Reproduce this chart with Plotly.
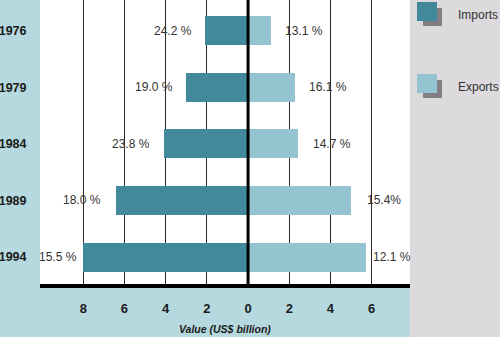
import plotly.graph_objects as go

# Trade values by year (US$ billion) and share labels
years = ["1976", "1979", "1984", "1989", "1994"]
imports = [2.1, 3.0, 4.1, 6.4, 8.0]
exports = [1.1, 2.3, 2.4, 5.0, 5.7]
import_labels = ["24.2 %", "19.0 %", "23.8 %", "18.0 %", "15.5 %"]
export_labels = ["13.1 %", "16.1 %", "14.7 %", "15.4%", "12.1 %"]
tick_values = [-8, -6, -4, -2, 0, 2, 4, 6]
tick_labels = ["8", "6", "4", "2", "0", "2", "4", "6"]

IMP_COLOR = "#41899b"
EXP_COLOR = "#94c4d0"
BAND_COLOR = "#b6d9df"
SIDE_COLOR = "#dddadd"
SHADOW = "#837d84"
FONT = "Liberation Sans, Arial, sans-serif"

W, H = 500, 337
L, R, T, B = 40, 90, 0, 51
PW, PH = W - L - R, H - T - B

ypos = list(range(len(years)))

fig = go.Figure()
fig.add_trace(go.Bar(
    y=ypos, x=[-v for v in imports], orientation="h", width=0.51,
    marker=dict(color=IMP_COLOR, line=dict(width=0)), name="Imports",
    showlegend=False, hoverinfo="skip",
))
fig.add_trace(go.Bar(
    y=ypos, x=exports, orientation="h", width=0.51,
    marker=dict(color=EXP_COLOR, line=dict(width=0)), name="Exports",
    showlegend=False, hoverinfo="skip",
))

label_font = dict(family=FONT, size=12, color="#333333")
gaps = [11, 11, 12, 13, 4]
annotations = []
for i in ypos:
    annotations.append(dict(
        x=-imports[i], y=i, xref="x", yref="y", text=import_labels[i],
        showarrow=False, xanchor="right", yanchor="middle",
        xshift=-gaps[i], font=label_font,
    ))
    annotations.append(dict(
        x=exports[i], y=i, xref="x", yref="y", text=export_labels[i],
        showarrow=False, xanchor="left", yanchor="middle",
        xshift=gaps[i] + 1, font=label_font,
    ))

# axis title
annotations.append(dict(
    x=0.5, y=(PH - 329) / PH, xref="paper", yref="paper",
    text="Value (US$ billion)", showarrow=False,
    xanchor="center", yanchor="middle",
    font=dict(family=FONT, size=10.5, color="#1a1a1a", weight="bold", style="italic"),
))


def px_x(px):
    return (px - L) / PW


def px_y(py):
    return (PH - (py - T)) / PH


shapes = [
    # grey side panel
    dict(type="rect", xref="paper", yref="paper", x0=px_x(410), x1=px_x(W),
         y0=px_y(H), y1=px_y(0), fillcolor=SIDE_COLOR, line=dict(width=0),
         layer="below"),
    # zero line
    dict(type="line", xref="x", yref="paper", x0=0, x1=0, y0=0, y1=1,
         line=dict(color="#000000", width=3)),
    # baseline
    dict(type="line", xref="paper", yref="paper", x0=0, x1=1, y0=0, y1=0,
         line=dict(color="#000000", width=4)),
]

# legend swatches with drop shadows
legend_items = [("Imports", IMP_COLOR, 2, 15), ("Exports", EXP_COLOR, 74, 87)]
for name, color, top, text_y in legend_items:
    shapes.append(dict(type="rect", xref="paper", yref="paper",
                       x0=px_x(423), x1=px_x(442), y0=px_y(top + 24), y1=px_y(top + 6),
                       fillcolor=SHADOW, line=dict(width=0)))
    shapes.append(dict(type="rect", xref="paper", yref="paper",
                       x0=px_x(417), x1=px_x(437), y0=px_y(top + 19), y1=px_y(top),
                       fillcolor=color, line=dict(width=0)))
    annotations.append(dict(
        x=px_x(456), y=px_y(text_y), xref="paper", yref="paper", text=name,
        showarrow=False, xanchor="left", yanchor="middle",
        font=dict(family=FONT, size=12, color="#333333"),
    ))

fig.update_layout(
    width=W, height=H,
    margin=dict(l=L, r=R, t=T, b=B, pad=0),
    paper_bgcolor=BAND_COLOR, plot_bgcolor="#ffffff",
    barmode="overlay", bargap=0,
    shapes=shapes, annotations=annotations,
    xaxis=dict(
        range=[-10.1, 7.86], tickvals=tick_values, ticktext=tick_labels,
        showgrid=True, gridcolor="#2a2a2a", gridwidth=1,
        zeroline=False, showline=False,
        ticks="outside", ticklen=10, tickcolor="rgba(0,0,0,0)",
        tickfont=dict(family=FONT, size=13, color="#1a1a1a", weight="bold"),
        fixedrange=True,
    ),
    yaxis=dict(
        range=[4.51, -0.54], tickvals=ypos, ticktext=years,
        showgrid=False, zeroline=False, showline=False,
        ticks="outside", ticklen=10, tickcolor="rgba(0,0,0,0)",
        tickfont=dict(family=FONT, size=12.5, color="#1a1a1a", weight="bold"),
        fixedrange=True,
    ),
    showlegend=False,
)

fig.write_html("out.html", config={"displayModeBar": False})
